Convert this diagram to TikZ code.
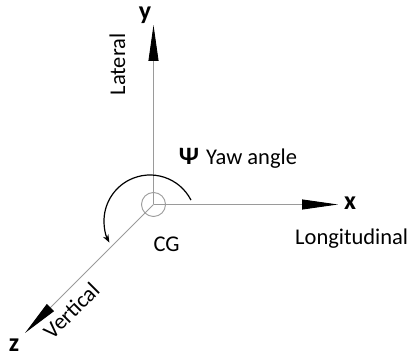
\documentclass[tikz,border=0pt]{standalone}
\usepackage{fontspec}
\setmainfont{Carlito}
\usetikzlibrary{arrows.meta}
\definecolor{axisgray}{HTML}{9a9a9a}

\begin{document}
\begin{tikzpicture}[x=1pt, y=1pt,
  axis/.style={draw=axisgray, line width=0.9pt, -{Triangle[length=36pt, width=10pt, black]}},
  axlabel/.style={font=\fontsize{26}{28}\selectfont\bfseries, inner sep=0pt},
  axname/.style={font=\fontsize{22.5}{25}\selectfont, inner sep=0pt},
  yaw/.style={draw=black, line width=1.2pt, -{Stealth[length=8pt, width=6pt]}}
]
\useasboundingbox (0,0) rectangle (412,358);

% centre of gravity
\coordinate (O) at (153.5,153.5);
\node[draw=axisgray, line width=0.9pt, circle, minimum size=24pt, inner sep=0pt] (cg) at (O) {};
\node[axname, anchor=base] (cglab) at (166.5,106) {CG};

% axis ends
\coordinate (xend) at (338,153.5);
\coordinate (yend) at (153.5,333);
\coordinate (zend) at (25,25);

% axes
\draw[axis] (O) -- (xend);
\draw[axis] (O) -- (yend);
\draw[axis] (O) -- (zend);

% axis letters
\node[axlabel] (xlab) at (350,155) {x};
\node[axlabel] (ylab) at (145,343) {y};
\node[axlabel] (zlab) at (14,12.5) {z};

% axis names
\node[axname, anchor=base west] (lonlab) at (295,113.3) {Longitudinal};
\node[axname, anchor=base, rotate=90] (latlab) at (125,293.5) {Lateral};
\node[axname, anchor=base, rotate=45] (verlab) at (76.7,42) {Vertical};

% yaw
\coordinate (yawc) at (150,137);
\draw[yaw] ([shift={(27:46)}]yawc) arc[start angle=27, end angle=208, radius=46];
\node[font=\fontsize{25}{27}\selectfont\bfseries, inner sep=0pt, anchor=base] (psi) at (189,193) {Ψ};
\node[axname, anchor=base west] (yawlab) at (206,193) {Yaw angle};

\end{tikzpicture}
\end{document}
